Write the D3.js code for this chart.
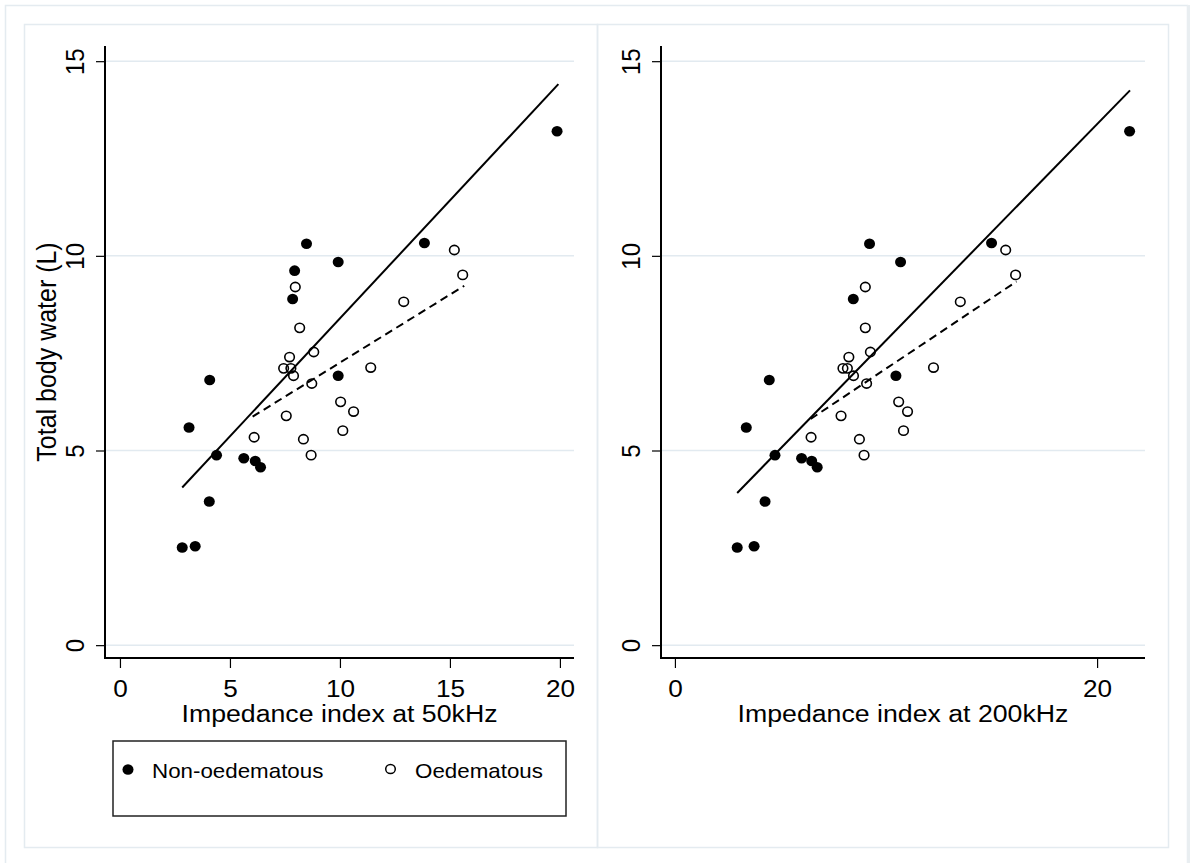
<!DOCTYPE html>
<html>
<head>
<meta charset="utf-8">
<script src="https://cdn.jsdelivr.net/npm/d3@7"></script>
<style>
  html, body { margin: 0; padding: 0; background: #ffffff; }
  svg { display: block; }
  text { font-family: "Liberation Sans", Arial, Helvetica, sans-serif; fill: #000; }
</style>
</head>
<body>
<div id="chart"></div>
<script>
// ---------------- DATA ----------------
// Non-oedematous children: total body water (L) and impedance indices
const nonOedTBW   = [13.20, 10.33, 10.31, 9.84, 9.62, 8.89, 6.92, 6.81, 5.59, 4.88, 4.80, 4.73, 4.57, 3.69, 2.51, 2.54];
const nonOedZ50   = [19.87, 13.84, 8.48, 9.92, 7.94, 7.85, 9.92, 4.08, 3.14, 4.39, 5.63, 6.15, 6.39, 4.06, 2.83, 3.42];
const nonOedZ200  = [21.54, 15.00, 9.22, 10.69, null, 8.45, 10.47, 4.47, 3.38, 4.74, 6.00, 6.48, 6.74, 4.27, 2.95, 3.75];

// Oedematous children
const oedTBW  = [10.15, 9.51, 8.82, 9.20, 8.15, 7.53, 7.40, 7.11, 7.11, 6.92, 6.72, 7.13, 6.25, 6.00, 5.89, 5.51, 5.34, 5.29, 4.88];
const oedZ50  = [15.20, 15.58, 12.90, 7.97, 8.17, 8.81, 7.71, 7.44, 7.77, 7.89, 8.72, 11.40, 10.03, 10.62, 7.56, 10.13, 6.10, 8.34, 8.69];
const oedZ200 = [15.67, 16.14, 13.52, 9.02, 9.02, 9.26, 8.24, 7.96, 8.17, 8.46, 9.08, 12.25, 10.60, 11.02, 7.87, 10.83, 6.45, 8.74, 8.96];

// Linear-fit end points (x, y)
const fitNonOed50  = [[2.83, 4.05], [19.93, 14.41]];
const fitOed50     = [[6.03, 5.87], [15.65, 9.23]];
const fitNonOed200 = [[2.95, 3.91], [21.56, 14.25]];
const fitOed200    = [[6.43, 5.81], [16.18, 9.34]];

// Axis ticks and labels
const yTicks    = [0, 5, 10, 15];
const xTicks50  = [0, 5, 10, 15, 20];
const xTicks200 = [0, 20];
const yTitle    = "Total body water (L)";
const xTitle50  = "Impedance index at 50kHz";
const xTitle200 = "Impedance index at 200kHz";
const legendLabels = ["Non-oedematous", "Oedematous"];

// ---------------- LAYOUT ----------------
const W = 1192, H = 863;
const SX = 1.09;               // the reference is slightly stretched horizontally
const plotTop = 46, plotBottom = 658;
const yDomain = [-0.33, 15.39];
const panels = [
  { left: 105, right: 574, xDomain: [-0.68, 20.64], ticks: xTicks50,  title: xTitle50,
    xs: [nonOedZ50, oedZ50], fits: [fitNonOed50, fitOed50], box: [24, 24, 597, 847], yTitle: true, legend: true },
  { left: 661, right: 1145, xDomain: [-0.66, 22.27], ticks: xTicks200, title: xTitle200,
    xs: [nonOedZ200, oedZ200], fits: [fitNonOed200, fitOed200], box: [597, 24, 1168, 847], yTitle: false, legend: false }
];
const borderColor = "#e4ebf0";
const gridColor = "#e2eaf0";

const svg = d3.select("#chart").append("svg")
  .attr("width", W).attr("height", H)
  .attr("viewBox", `0 0 ${W} ${H}`);

// outer frame
svg.append("rect").attr("x", 5.5).attr("y", 5.5).attr("width", 1182).attr("height", 870)
  .attr("fill", "none").attr("stroke", borderColor).attr("stroke-width", 1.5);
svg.append("line").attr("x1", 1188.5).attr("x2", 1188.5).attr("y1", 5).attr("y2", H)
  .attr("stroke", "#e9eef1").attr("stroke-width", 3);

const y = d3.scaleLinear().domain(yDomain).range([plotBottom, plotTop]);

function stretchedText(g, x, yy, str, size, anchor, rotate) {
  return g.append("text")
    .attr("transform", `translate(${x},${yy}) scale(${SX},1)` + (rotate ? " rotate(-90)" : ""))
    .attr("text-anchor", anchor)
    .attr("font-size", size)
    .text(str);
}

panels.forEach(p => {
  const g = svg.append("g");
  const [bx0, by0, bx1, by1] = p.box;
  g.append("rect").attr("x", bx0 + 0.5).attr("y", by0 + 0.5)
    .attr("width", bx1 - bx0).attr("height", by1 - by0)
    .attr("fill", "none").attr("stroke", borderColor).attr("stroke-width", 1.5);

  const x = d3.scaleLinear().domain(p.xDomain).range([p.left, p.right]);

  // gridlines
  g.append("g").selectAll("line").data(yTicks).join("line")
    .attr("x1", p.left).attr("x2", p.right)
    .attr("y1", d => y(d)).attr("y2", d => y(d))
    .attr("stroke", gridColor).attr("stroke-width", 1.5);

  // y axis
  const ya = g.append("g").attr("transform", `translate(${p.left},0)`)
    .call(d3.axisLeft(y).tickValues(yTicks).tickSize(9).tickSizeOuter(0).tickFormat(d3.format("d")));
  ya.select(".domain").attr("stroke", "#000").attr("stroke-width", 2)
    .attr("d", `M0,${plotTop}V${plotBottom + 1}`);
  ya.selectAll(".tick line").attr("stroke", "#000").attr("stroke-width", 1.2);
  ya.selectAll(".tick text")
    .attr("x", null).attr("dy", null).attr("y", null)
    .attr("transform", `translate(-21,0) scale(${SX},1) rotate(-90)`)
    .attr("text-anchor", "middle")
    .attr("font-size", 24)
    .attr("font-family", null)
    .attr("fill", "#000");

  // x axis
  const xa = g.append("g").attr("transform", `translate(0,${plotBottom})`)
    .call(d3.axisBottom(x).tickValues(p.ticks).tickSize(10).tickSizeOuter(0).tickFormat(d3.format("d")));
  xa.select(".domain").attr("stroke", "#000").attr("stroke-width", 2)
    .attr("d", `M${p.left - 1},0H${p.right}`);
  xa.selectAll(".tick line").attr("stroke", "#000").attr("stroke-width", 1.2);
  xa.selectAll(".tick text")
    .attr("y", null).attr("dy", null)
    .attr("transform", `translate(0,39) scale(${SX},1)`)
    .attr("text-anchor", "middle")
    .attr("font-size", 24)
    .attr("font-family", null)
    .attr("fill", "#000");

  // axis titles
  stretchedText(g, (p.left + p.right) / 2, 721.5, p.title, 24.5, "middle", false);
  if (p.yTitle) stretchedText(g, 55.5, (plotTop + plotBottom) / 2, yTitle, 25, "middle", true);

  // points
  const ptsNon = nonOedTBW.map((t, i) => ({ x: p.xs[0][i], y: t })).filter(d => d.x != null);
  const ptsOed = oedTBW.map((t, i) => ({ x: p.xs[1][i], y: t })).filter(d => d.x != null);

  g.append("g").selectAll("ellipse").data(ptsNon).join("ellipse")
    .attr("cx", d => x(d.x)).attr("cy", d => y(d.y))
    .attr("rx", 5.3 * 1.04).attr("ry", 5.3).attr("fill", "#000");
  g.append("g").selectAll("ellipse").data(ptsOed).join("ellipse")
    .attr("cx", d => x(d.x)).attr("cy", d => y(d.y))
    .attr("rx", 4.6 * 1.04).attr("ry", 4.6)
    .attr("fill", "none").attr("stroke", "#000").attr("stroke-width", 1.6);

  // fit lines
  const line = d3.line().x(d => x(d[0])).y(d => y(d[1]));
  g.append("path").datum(p.fits[0]).attr("d", line)
    .attr("fill", "none").attr("stroke", "#000").attr("stroke-width", 2);
  g.append("path").datum(p.fits[1]).attr("d", line)
    .attr("fill", "none").attr("stroke", "#000").attr("stroke-width", 2)
    .attr("stroke-dasharray", "8,5");

  // legend
  if (p.legend) {
    const lg = g.append("g");
    lg.append("rect").attr("x", 113).attr("y", 741).attr("width", 453).attr("height", 75)
      .attr("fill", "#fff").attr("stroke", "#222").attr("stroke-width", 1.5);
    lg.append("ellipse").attr("cx", 128).attr("cy", 769.5).attr("rx", 5.3 * 1.04).attr("ry", 5.3).attr("fill", "#000");
    stretchedText(lg, 152, 777.5, legendLabels[0], 20.5, "start", false);
    lg.append("ellipse").attr("cx", 390.5).attr("cy", 769).attr("rx", 4.6 * 1.04).attr("ry", 4.6)
      .attr("fill", "none").attr("stroke", "#000").attr("stroke-width", 1.5);
    stretchedText(lg, 415, 777.5, legendLabels[1], 20.5, "start", false);
  }
});
</script>
</body>
</html>
